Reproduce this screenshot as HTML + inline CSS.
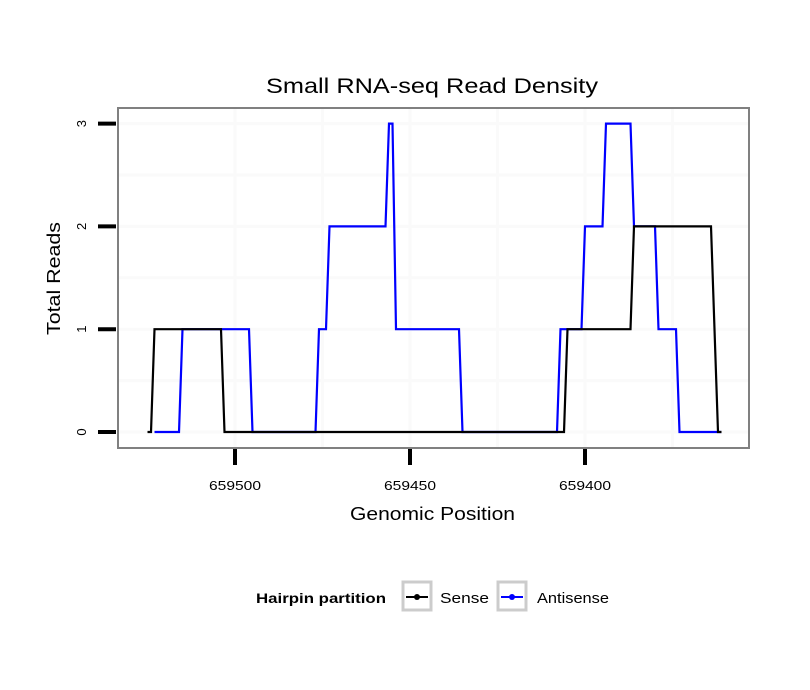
<!DOCTYPE html>
<html><head><meta charset="utf-8"><style>
body{margin:0;background:#fff;}
svg{display:block;font-family:"Liberation Sans",sans-serif;}
</style></head><body>
<svg id="chart" width="810" height="690" viewBox="0 0 810 690">
<rect width="810" height="690" fill="#fff"/>
<text x="266" y="93" font-size="21" textLength="332" lengthAdjust="spacingAndGlyphs">Small RNA-seq Read Density</text>
<g id="grid"></g>
<g id="series"></g>
<rect x="118" y="108" width="631" height="340" fill="none" stroke="#808080" stroke-width="2"/>
<g id="axes"></g>
<text x="350" y="520" font-size="18" textLength="165" lengthAdjust="spacingAndGlyphs">Genomic Position</text>
<text transform="translate(60,335) rotate(-90)" font-size="18" textLength="113" lengthAdjust="spacingAndGlyphs">Total Reads</text>
<g>
<text x="256" y="603" font-size="14" font-weight="bold" textLength="130" lengthAdjust="spacingAndGlyphs">Hairpin partition</text>
<g>
<rect x="403" y="582" width="28" height="28" fill="#fff" stroke="#ccc" stroke-width="3"/>
<line x1="406" y1="597" x2="428" y2="597" stroke="#000" stroke-width="2"/>
<circle cx="417" cy="597" r="3" fill="#000"/>
<text x="440" y="603" font-size="14.5" textLength="49" lengthAdjust="spacingAndGlyphs">Sense</text>
</g>
<g>
<rect x="498" y="582" width="28" height="28" fill="#fff" stroke="#ccc" stroke-width="3"/>
<line x1="501" y1="597" x2="523" y2="597" stroke="#00f" stroke-width="2"/>
<circle cx="512" cy="597" r="3" fill="#00f"/>
<text x="537" y="603" font-size="14.5" textLength="72" lengthAdjust="spacingAndGlyphs">Antisense</text>
</g>
</g>
</svg>
<script>
const senseX = [659525,659524,659523,659504,659503,659406,659405,659387,659386,659364,659362,659361];
const senseY = [0,0,1,1,0,0,1,1,2,2,0,0];
const antiX = [659523,659516,659515,659496,659495,659477,659476,659474,659473,659457,659456,659455,659454,659436,659435,659408,659407,659401,659400,659395,659394,659387,659386,659380,659379,659374,659373,659361];
const antiY = [0,0,1,1,0,0,1,1,2,2,3,3,1,1,0,0,1,1,2,2,3,3,2,2,1,1,0,0];
const xTicks = [659500,659450,659400];
const xTickLabels = ["659500","659450","659400"];
const xMinor = [659475,659425,659375];
const yTicks = [0,1,2,3];
const yTickLabels = ["0","1","2","3"];
const yMinor = [0.5,1.5,2.5];

const NS = "http://www.w3.org/2000/svg";
function sx(p){ return 235 + (659500 - p) * 3.5; }
function sy(v){ return 432 - v * 102.8; }
function mk(tag, attrs, parent){
  const e = document.createElementNS(NS, tag);
  for (const k in attrs) e.setAttribute(k, attrs[k]);
  parent.appendChild(e);
  return e;
}
const grid = document.getElementById('grid');
const axes = document.getElementById('axes');
const series = document.getElementById('series');

xMinor.concat(xTicks).forEach(p=>{
  const l = mk('line',{x1:sx(p),x2:sx(p),y1:108,y2:448,stroke:'#fafafa','stroke-width':3},grid);
  
  
});
yMinor.concat(yTicks).forEach(v=>{
  const l = mk('line',{x1:118,x2:749,y1:sy(v),y2:sy(v),stroke:'#fafafa','stroke-width':3},grid);
  
  
});

xTicks.forEach((p,i)=>{
  const t = mk('line',{x1:sx(p),x2:sx(p),y1:449,y2:465,stroke:'#000','stroke-width':4},axes);
  
  
  const lb = mk('text',{x:sx(p)-26,y:490,'font-size':13,textLength:52,lengthAdjust:'spacingAndGlyphs'},axes);
  lb.textContent = xTickLabels[i];
  
  
});
yTicks.forEach((v,i)=>{
  const t = mk('line',{x1:98,x2:116,y1:sy(v),y2:sy(v),stroke:'#000','stroke-width':4},axes);
  
  
  const lb = mk('text',{transform:'translate(86,'+sy(v)+') rotate(-90)','font-size':13,'text-anchor':'middle'},axes);
  lb.textContent = yTickLabels[i];
  
  
});

function drawLine(xs, ys, color, name){
  const pts = xs.map((p,i)=>sx(p)+','+sy(ys[i])).join(' ');
  const pl = mk('polyline',{points:pts,fill:'none',stroke:color,'stroke-width':2.2,'stroke-linejoin':'miter'},series);
  
  
}
drawLine(antiX, antiY, '#0000ff', 'antisense-line');
drawLine(senseX, senseY, '#000000', 'sense-line');
</script>
</body></html>
